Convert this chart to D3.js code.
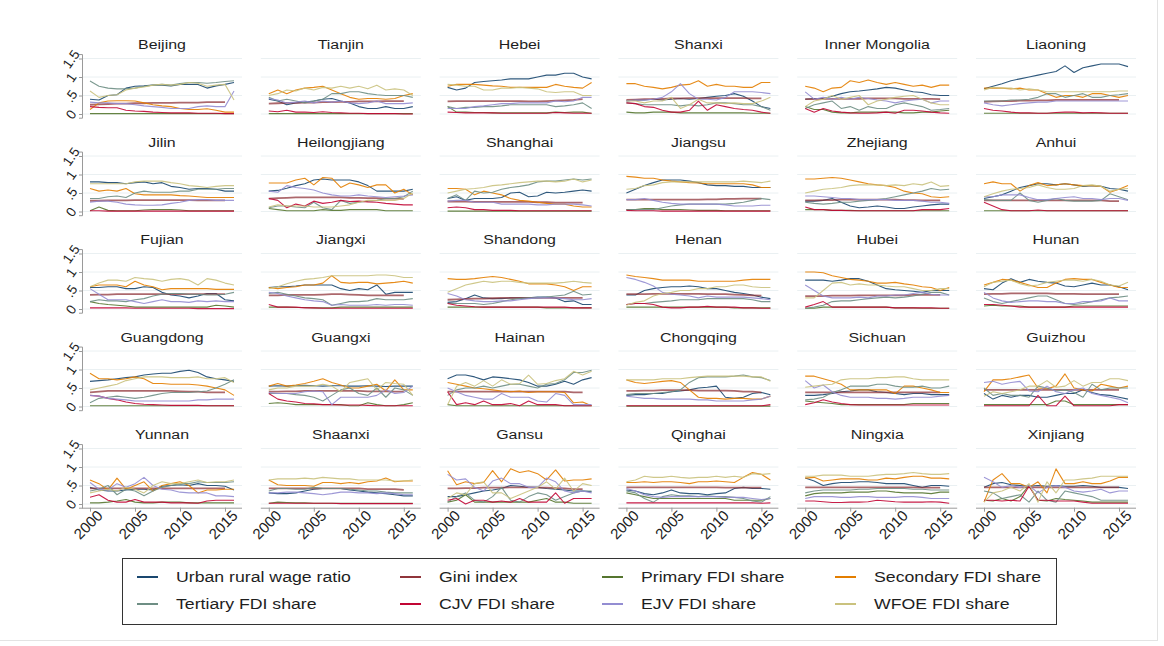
<!DOCTYPE html>
<html>
<head>
<meta charset="utf-8">
<script src="https://cdn.jsdelivr.net/npm/d3@7"></script>
<style>
  html, body { margin: 0; padding: 0; background: #fff; }
  svg { display: block; font-family: "Liberation Sans", Arial, sans-serif; }
</style>
</head>
<body>
<svg id="chart" width="1164" height="646"></svg>
<script>
// Provinces, in panel order (row by row)
const provinces = ["Beijing","Tianjin","Hebei","Shanxi","Inner Mongolia","Liaoning",
  "Jilin","Heilongjiang","Shanghai","Jiangsu","Zhejiang","Anhui",
  "Fujian","Jiangxi","Shandong","Henan","Hubei","Hunan",
  "Guangdong","Guangxi","Hainan","Chongqing","Sichuan","Guizhou",
  "Yunnan","Shaanxi","Gansu","Qinghai","Ningxia","Xinjiang"];

const years = d3.range(2000, 2017);
const xTickValues = [2000, 2005, 2010, 2015];
const yTickValues = [0, 0.5, 1, 1.5];
const yTickLabels = ["0", ".5", "1", "1.5"];

const seriesNames = ["Urban rural wage ratio","Gini index","Primary FDI share","Secondary FDI share",
  "Tertiary FDI share","CJV FDI share","EJV FDI share","WFOE FDI share"];

// One row per province, one value per year 2000-2016
const wageRatio = [
  [0.40,0.38,0.50,0.52,0.70,0.75,0.76,0.78,0.78,0.76,0.80,0.80,0.80,0.70,0.76,0.80,0.85],
  [0.40,0.35,0.25,0.30,0.32,0.35,0.40,0.42,0.35,0.30,0.20,0.15,0.15,0.20,0.15,0.15,0.20],
  [0.72,0.65,0.70,0.85,0.88,0.90,0.92,0.95,0.95,0.95,1.00,1.05,1.05,1.10,1.10,1.00,0.95],
  [0.35,0.38,0.38,0.40,0.38,0.40,0.42,0.40,0.42,0.45,0.48,0.50,0.55,0.48,0.35,0.20,0.15],
  [0.40,0.42,0.42,0.48,0.55,0.60,0.62,0.65,0.68,0.72,0.70,0.65,0.60,0.58,0.52,0.50,0.50],
  [0.68,0.75,0.82,0.90,0.95,1.00,1.05,1.10,1.15,1.30,1.12,1.25,1.30,1.35,1.35,1.35,1.28],
  [0.80,0.80,0.78,0.78,0.75,0.78,0.80,0.75,0.78,0.68,0.65,0.60,0.62,0.62,0.60,0.55,0.55],
  [0.55,0.57,0.63,0.70,0.75,0.85,0.88,0.85,0.85,0.85,0.80,0.70,0.55,0.55,0.55,0.55,0.60],
  [0.35,0.40,0.30,0.35,0.35,0.35,0.38,0.50,0.52,0.40,0.42,0.52,0.50,0.52,0.55,0.58,0.55],
  [0.50,0.60,0.70,0.78,0.85,0.85,0.85,0.82,0.78,0.72,0.70,0.70,0.68,0.68,0.65,0.65,0.65],
  [0.28,0.28,0.30,0.35,0.25,0.15,0.10,0.12,0.15,0.12,0.08,0.08,0.12,0.15,0.18,0.20,0.20],
  [0.35,0.40,0.45,0.55,0.65,0.70,0.75,0.75,0.72,0.75,0.72,0.68,0.70,0.68,0.62,0.60,0.55],
  [0.58,0.58,0.60,0.60,0.55,0.55,0.60,0.58,0.45,0.38,0.35,0.30,0.35,0.42,0.42,0.25,0.22],
  [0.58,0.60,0.60,0.62,0.65,0.65,0.65,0.65,0.55,0.50,0.55,0.52,0.65,0.40,0.45,0.45,0.45],
  [0.18,0.20,0.28,0.38,0.30,0.28,0.28,0.30,0.30,0.30,0.32,0.32,0.30,0.20,0.22,0.12,0.12],
  [0.38,0.38,0.50,0.55,0.58,0.60,0.60,0.62,0.60,0.55,0.55,0.50,0.45,0.42,0.38,0.32,0.28],
  [0.78,0.78,0.78,0.75,0.78,0.82,0.82,0.75,0.65,0.55,0.52,0.50,0.48,0.45,0.50,0.50,0.50],
  [0.55,0.52,0.70,0.82,0.72,0.80,0.75,0.72,0.70,0.62,0.60,0.65,0.70,0.65,0.65,0.60,0.52],
  [0.68,0.70,0.72,0.75,0.78,0.80,0.85,0.88,0.90,0.90,0.95,0.98,0.92,0.80,0.75,0.72,0.68],
  [0.55,0.56,0.55,0.56,0.57,0.56,0.55,0.56,0.56,0.55,0.55,0.56,0.55,0.54,0.55,0.55,0.55],
  [0.75,0.85,0.85,0.80,0.72,0.80,0.78,0.75,0.72,0.65,0.55,0.55,0.60,0.68,0.60,0.72,0.78],
  [0.30,0.32,0.32,0.35,0.35,0.40,0.42,0.45,0.50,0.52,0.55,0.25,0.22,0.25,0.35,0.38,0.32],
  [0.30,0.30,0.32,0.35,0.40,0.42,0.45,0.45,0.40,0.38,0.35,0.32,0.35,0.35,0.32,0.32,0.32],
  [0.35,0.20,0.30,0.25,0.30,0.30,0.25,0.25,0.30,0.35,0.35,0.45,0.38,0.32,0.30,0.25,0.20],
  [0.45,0.38,0.35,0.35,0.38,0.40,0.40,0.38,0.48,0.50,0.52,0.50,0.55,0.50,0.50,0.48,0.38],
  [0.30,0.28,0.28,0.30,0.35,0.40,0.42,0.42,0.42,0.38,0.35,0.32,0.30,0.28,0.25,0.22,0.22],
  [0.20,0.20,0.25,0.30,0.35,0.38,0.42,0.50,0.48,0.45,0.45,0.42,0.40,0.38,0.35,0.35,0.33],
  [0.38,0.35,0.28,0.25,0.30,0.38,0.30,0.28,0.28,0.25,0.28,0.30,0.42,0.45,0.42,0.42,0.40],
  [0.70,0.62,0.50,0.55,0.58,0.58,0.60,0.60,0.58,0.55,0.55,0.55,0.50,0.45,0.50,0.50,0.48],
  [0.45,0.55,0.58,0.52,0.50,0.48,0.50,0.48,0.50,0.48,0.48,0.50,0.48,0.45,0.45,0.45,0.42]
];

// Gini index stops in 2015
const giniIndex = [
  [0.25,0.26,0.27,0.28,0.28,0.29,0.29,0.30,0.30,0.30,0.31,0.31,0.31,0.32,0.32,0.32,null],
  [0.28,0.29,0.30,0.30,0.31,0.31,0.32,0.32,0.33,0.33,0.34,0.34,0.34,0.35,0.35,0.35,null],
  [0.34,0.35,0.35,0.35,0.35,0.35,0.35,0.35,0.35,0.34,0.34,0.35,0.36,0.37,0.38,0.40,null],
  [0.38,0.39,0.40,0.40,0.41,0.42,0.42,0.43,0.43,0.43,0.43,0.43,0.43,0.43,0.42,0.42,null],
  [0.40,0.40,0.41,0.41,0.41,0.41,0.41,0.42,0.42,0.42,0.42,0.41,0.41,0.41,0.41,0.40,null],
  [0.33,0.34,0.35,0.35,0.36,0.36,0.37,0.37,0.38,0.38,0.38,0.38,0.38,0.38,0.38,0.38,null],
  [0.29,0.29,0.30,0.30,0.30,0.31,0.31,0.31,0.31,0.31,0.31,0.31,0.30,0.30,0.30,0.30,null],
  [0.35,0.36,0.37,0.38,0.38,0.38,0.38,0.38,0.38,0.37,0.37,0.36,0.36,0.35,0.35,0.34,null],
  [0.27,0.27,0.27,0.26,0.26,0.26,0.26,0.26,0.26,0.26,0.25,0.25,0.24,0.24,0.24,0.24,null],
  [0.32,0.32,0.32,0.32,0.32,0.32,0.32,0.32,0.32,0.33,0.33,0.34,0.34,0.35,0.35,0.35,null],
  [0.30,0.30,0.31,0.31,0.32,0.32,0.32,0.32,0.32,0.32,0.32,0.31,0.31,0.30,0.30,0.30,null],
  [0.30,0.30,0.30,0.30,0.30,0.30,0.30,0.30,0.30,0.30,0.30,0.30,0.30,0.30,0.28,0.28,null],
  [0.38,0.39,0.39,0.40,0.40,0.40,0.40,0.40,0.40,0.40,0.40,0.40,0.40,0.40,0.40,0.40,null],
  [0.37,0.37,0.38,0.38,0.38,0.38,0.39,0.40,0.40,0.39,0.38,0.37,0.37,0.37,0.37,0.37,null],
  [0.25,0.26,0.27,0.28,0.28,0.29,0.30,0.30,0.30,0.30,0.30,0.30,0.30,0.30,0.30,0.30,null],
  [0.40,0.40,0.40,0.41,0.41,0.41,0.41,0.41,0.41,0.40,0.40,0.40,0.39,0.38,0.37,0.36,null],
  [0.35,0.35,0.35,0.36,0.36,0.36,0.37,0.37,0.37,0.37,0.37,0.37,0.38,0.38,0.38,0.38,null],
  [0.40,0.41,0.41,0.42,0.42,0.42,0.42,0.42,0.41,0.41,0.41,0.40,0.40,0.40,0.40,0.40,null],
  [0.38,0.40,0.42,0.42,0.42,0.42,0.42,0.42,0.42,0.42,0.41,0.40,0.40,0.38,0.38,0.38,null],
  [0.40,0.40,0.41,0.41,0.42,0.42,0.42,0.42,0.42,0.42,0.42,0.41,0.41,0.41,0.40,0.40,null],
  [0.40,0.40,0.40,0.40,0.40,0.40,0.40,0.40,0.40,0.40,0.40,0.40,0.40,0.40,0.38,0.38,null],
  [0.42,0.42,0.43,0.43,0.44,0.44,0.44,0.44,0.43,0.43,0.43,0.43,0.42,0.40,0.40,0.38,null],
  [0.38,0.38,0.38,0.38,0.38,0.38,0.38,0.38,0.38,0.38,0.38,0.38,0.38,0.38,0.38,0.38,null],
  [0.45,0.45,0.45,0.45,0.45,0.45,0.45,0.45,0.45,0.45,0.45,0.45,0.45,0.45,0.45,0.45,null],
  [0.42,0.42,0.42,0.42,0.42,0.42,0.42,0.42,0.42,0.42,0.42,0.42,0.42,0.42,0.42,0.42,null],
  [0.42,0.42,0.42,0.42,0.42,0.42,0.42,0.42,0.42,0.42,0.42,0.40,0.40,0.40,0.40,0.38,null],
  [0.42,0.42,0.43,0.43,0.44,0.44,0.44,0.45,0.45,0.45,0.44,0.44,0.43,0.42,0.40,0.40,null],
  [0.45,0.45,0.45,0.45,0.45,0.45,0.45,0.45,0.45,0.45,0.45,0.44,0.44,0.44,0.44,0.44,null],
  [0.45,0.45,0.45,0.45,0.45,0.45,0.45,0.45,0.45,0.45,0.45,0.45,0.45,0.44,0.44,0.44,null],
  [0.45,0.45,0.45,0.45,0.45,0.45,0.45,0.45,0.45,0.45,0.45,0.45,0.45,0.45,0.45,0.45,null]
];

const primaryShare = [
  [0.01,0.01,0.01,0.01,0.01,0.01,0.01,0.01,0.01,0.01,0.01,0.01,0.01,0.01,0.01,0.01,0.01],
  [0.01,0.01,0.01,0.01,0.01,0.01,0.01,0.01,0.01,0.01,0.01,0.01,0.01,0.01,0.01,0.01,0.01],
  [0.20,0.05,0.05,0.04,0.04,0.03,0.03,0.03,0.03,0.03,0.03,0.03,0.05,0.04,0.05,0.05,0.02],
  [0.05,0.03,0.03,0.05,0.05,0.05,0.03,0.03,0.03,0.03,0.03,0.03,0.03,0.03,0.02,0.02,0.02],
  [0.20,0.12,0.12,0.05,0.03,0.03,0.05,0.05,0.05,0.05,0.05,0.03,0.03,0.05,0.05,0.08,0.10],
  [0.02,0.02,0.02,0.02,0.02,0.02,0.02,0.02,0.02,0.02,0.02,0.02,0.02,0.02,0.02,0.02,0.02],
  [0.02,0.12,0.03,0.02,0.02,0.02,0.04,0.05,0.05,0.05,0.04,0.02,0.02,0.02,0.02,0.02,0.02],
  [0.08,0.05,0.02,0.02,0.02,0.02,0.05,0.03,0.03,0.05,0.05,0.05,0.05,0.02,0.02,0.02,0.02],
  [0.01,0.01,0.01,0.01,0.01,0.01,0.01,0.01,0.01,0.01,0.01,0.01,0.01,0.01,0.01,0.01,0.01],
  [0.05,0.05,0.08,0.08,0.05,0.05,0.05,0.04,0.03,0.03,0.03,0.02,0.02,0.02,0.02,0.02,0.02],
  [0.05,0.05,0.05,0.03,0.03,0.03,0.02,0.02,0.02,0.02,0.02,0.02,0.02,0.02,0.02,0.02,0.02],
  [0.02,0.02,0.02,0.02,0.02,0.02,0.02,0.02,0.02,0.02,0.02,0.02,0.02,0.02,0.02,0.02,0.02],
  [0.20,0.15,0.12,0.10,0.08,0.05,0.05,0.05,0.05,0.05,0.05,0.05,0.05,0.05,0.10,0.08,0.05],
  [0.05,0.05,0.05,0.04,0.04,0.03,0.03,0.03,0.05,0.05,0.05,0.05,0.05,0.05,0.05,0.05,0.05],
  [0.05,0.05,0.05,0.05,0.05,0.05,0.05,0.05,0.05,0.05,0.05,0.03,0.03,0.03,0.03,0.03,0.03],
  [0.05,0.05,0.05,0.05,0.05,0.05,0.05,0.05,0.05,0.05,0.05,0.05,0.03,0.03,0.03,0.03,0.03],
  [0.02,0.02,0.05,0.05,0.05,0.05,0.05,0.05,0.05,0.05,0.03,0.03,0.03,0.02,0.02,0.02,0.02],
  [0.08,0.10,0.08,0.08,0.08,0.05,0.05,0.05,0.05,0.05,0.08,0.08,0.08,0.08,0.08,0.08,0.08],
  [0.02,0.02,0.02,0.02,0.02,0.02,0.02,0.02,0.02,0.02,0.02,0.02,0.02,0.02,0.02,0.02,0.02],
  [0.08,0.10,0.08,0.05,0.05,0.05,0.05,0.05,0.05,0.02,0.02,0.10,0.05,0.02,0.02,0.05,0.10],
  [0.05,0.02,0.02,0.02,0.02,0.02,0.02,0.02,0.02,0.02,0.02,0.02,0.02,0.02,0.02,0.02,0.02],
  [0.01,0.01,0.01,0.01,0.01,0.01,0.01,0.01,0.01,0.01,0.01,0.01,0.01,0.01,0.01,0.01,0.01],
  [0.15,0.12,0.10,0.08,0.05,0.05,0.05,0.05,0.05,0.05,0.05,0.05,0.08,0.08,0.08,0.08,0.08],
  [0.05,0.05,0.05,0.05,0.05,0.05,0.05,0.05,0.15,0.15,0.05,0.05,0.05,0.05,0.05,0.05,0.05],
  [0.03,0.03,0.05,0.08,0.12,0.05,0.03,0.03,0.05,0.05,0.05,0.03,0.03,0.03,0.03,0.03,0.03],
  [0.02,0.05,0.04,0.03,0.03,0.02,0.02,0.02,0.02,0.02,0.02,0.02,0.02,0.02,0.02,0.02,0.02],
  [0.05,0.10,0.25,0.05,0.05,0.05,0.05,0.05,0.05,0.05,0.10,0.15,0.05,0.05,0.02,0.02,0.02],
  [0.30,0.25,0.20,0.15,0.15,0.15,0.15,0.15,0.15,0.15,0.15,0.15,0.10,0.10,0.10,0.10,0.15],
  [0.22,0.28,0.30,0.30,0.30,0.32,0.32,0.32,0.35,0.35,0.32,0.30,0.30,0.30,0.28,0.32,0.32],
  [0.10,0.08,0.15,0.08,0.20,0.50,0.10,0.08,0.15,0.12,0.10,0.08,0.05,0.05,0.05,0.05,0.05]
];

const secondaryShare = [
  [0.12,0.30,0.35,0.36,0.36,0.35,0.30,0.25,0.22,0.20,0.15,0.12,0.12,0.14,0.10,0.05,0.05],
  [0.55,0.65,0.55,0.65,0.70,0.72,0.75,0.65,0.55,0.45,0.40,0.42,0.42,0.40,0.42,0.50,0.55],
  [0.75,0.80,0.80,0.80,0.78,0.76,0.75,0.72,0.72,0.72,0.72,0.72,0.80,0.75,0.72,0.70,0.85],
  [0.82,0.82,0.75,0.72,0.68,0.72,0.78,0.80,0.90,0.75,0.80,0.75,0.75,0.72,0.72,0.85,0.85],
  [0.75,0.70,0.60,0.70,0.72,0.90,0.85,0.92,0.85,0.80,0.85,0.80,0.75,0.78,0.72,0.78,0.78],
  [0.70,0.70,0.70,0.68,0.70,0.65,0.65,0.55,0.45,0.50,0.50,0.45,0.55,0.55,0.50,0.45,0.50],
  [0.62,0.55,0.58,0.55,0.62,0.48,0.45,0.45,0.45,0.45,0.43,0.42,0.40,0.38,0.38,0.38,0.38],
  [0.77,0.77,0.77,0.85,0.90,0.72,0.92,0.90,0.65,0.77,0.72,0.65,0.72,0.72,0.50,0.60,0.45],
  [0.62,0.62,0.60,0.45,0.55,0.50,0.45,0.35,0.30,0.28,0.25,0.22,0.20,0.20,0.15,0.12,0.12],
  [0.95,0.93,0.90,0.90,0.85,0.82,0.80,0.78,0.77,0.75,0.75,0.75,0.75,0.75,0.72,0.65,0.65],
  [0.88,0.88,0.90,0.92,0.90,0.85,0.80,0.75,0.72,0.70,0.65,0.55,0.50,0.48,0.40,0.38,0.40],
  [0.75,0.80,0.75,0.75,0.55,0.70,0.78,0.70,0.72,0.75,0.72,0.70,0.70,0.68,0.52,0.60,0.70],
  [0.60,0.65,0.65,0.65,0.60,0.75,0.65,0.60,0.52,0.55,0.55,0.55,0.55,0.55,0.53,0.53,0.53],
  [0.58,0.55,0.58,0.60,0.65,0.65,0.70,0.90,0.72,0.70,0.72,0.72,0.68,0.70,0.72,0.75,0.70],
  [0.82,0.80,0.80,0.82,0.85,0.88,0.85,0.80,0.75,0.68,0.68,0.68,0.65,0.60,0.50,0.60,0.60],
  [0.92,0.88,0.85,0.82,0.78,0.78,0.78,0.78,0.75,0.75,0.75,0.75,0.75,0.78,0.80,0.80,0.80],
  [1.00,1.00,0.98,0.90,0.85,0.80,0.78,0.75,0.70,0.70,0.72,0.68,0.65,0.60,0.58,0.50,0.58],
  [0.65,0.72,0.80,0.78,0.72,0.65,0.58,0.58,0.70,0.80,0.82,0.80,0.80,0.72,0.65,0.58,0.58],
  [0.90,0.75,0.75,0.72,0.75,0.80,0.75,0.62,0.62,0.60,0.60,0.60,0.58,0.55,0.50,0.45,0.30],
  [0.55,0.62,0.55,0.58,0.62,0.68,0.75,0.65,0.58,0.50,0.50,0.55,0.60,0.42,0.72,0.45,0.45],
  [0.65,0.60,0.55,0.50,0.48,0.45,0.42,0.40,0.42,0.38,0.40,0.40,0.40,0.38,0.10,0.12,0.02],
  [0.72,0.65,0.62,0.65,0.68,0.70,0.65,0.45,0.25,0.22,0.22,0.20,0.22,0.22,0.20,0.20,0.28],
  [0.82,0.82,0.75,0.68,0.60,0.45,0.45,0.45,0.45,0.45,0.35,0.55,0.55,0.50,0.45,0.38,0.38],
  [0.40,0.72,0.72,0.75,0.80,0.85,0.50,0.48,0.55,0.88,0.50,0.45,0.42,0.60,0.55,0.50,0.55],
  [0.65,0.55,0.38,0.70,0.40,0.50,0.60,0.35,0.50,0.55,0.60,0.50,0.30,0.38,0.38,0.40,0.40],
  [0.65,0.52,0.50,0.50,0.50,0.48,0.58,0.58,0.55,0.58,0.55,0.60,0.62,0.70,0.60,0.62,0.62],
  [0.90,0.52,0.60,0.55,0.58,0.90,0.60,0.95,0.85,0.90,0.82,0.65,0.92,0.62,0.65,0.65,0.68],
  [0.58,0.58,0.60,0.58,0.60,0.60,0.58,0.55,0.60,0.60,0.62,0.60,0.58,0.72,0.85,0.80,0.65],
  [0.70,0.72,0.62,0.65,0.68,0.68,0.68,0.65,0.65,0.70,0.68,0.72,0.75,0.75,0.70,0.70,0.68],
  [0.05,0.65,0.82,0.55,0.55,0.45,0.60,0.30,0.95,0.55,0.55,0.60,0.55,0.55,0.62,0.72,0.72]
];

const tertiaryShare = [
  [0.89,0.75,0.70,0.68,0.68,0.70,0.75,0.78,0.80,0.78,0.82,0.85,0.85,0.83,0.85,0.88,0.90],
  [0.45,0.35,0.40,0.35,0.30,0.35,0.40,0.55,0.55,0.60,0.60,0.55,0.52,0.50,0.50,0.50,0.45],
  [0.20,0.15,0.18,0.18,0.20,0.20,0.22,0.25,0.25,0.25,0.25,0.25,0.20,0.22,0.25,0.30,0.15],
  [0.30,0.28,0.25,0.25,0.25,0.25,0.22,0.25,0.22,0.25,0.30,0.30,0.28,0.25,0.25,0.20,0.10],
  [0.15,0.25,0.30,0.35,0.15,0.20,0.10,0.20,0.15,0.15,0.25,0.30,0.25,0.20,0.10,0.12,0.15],
  [0.35,0.35,0.35,0.38,0.38,0.40,0.45,0.55,0.55,0.45,0.50,0.55,0.45,0.45,0.50,0.52,0.55],
  [0.35,0.35,0.40,0.42,0.38,0.50,0.55,0.52,0.52,0.52,0.55,0.55,0.60,0.60,0.60,0.62,0.62],
  [0.10,0.15,0.15,0.12,0.10,0.25,0.10,0.05,0.30,0.22,0.25,0.28,0.30,0.35,0.35,0.40,0.55],
  [0.35,0.45,0.30,0.55,0.50,0.52,0.60,0.65,0.68,0.72,0.80,0.82,0.82,0.85,0.88,0.85,0.88],
  [0.05,0.05,0.05,0.05,0.10,0.15,0.18,0.20,0.20,0.20,0.20,0.20,0.22,0.25,0.30,0.35,0.32],
  [0.25,0.22,0.20,0.22,0.25,0.25,0.28,0.30,0.32,0.35,0.40,0.45,0.50,0.55,0.62,0.58,0.60],
  [0.32,0.30,0.30,0.30,0.50,0.30,0.25,0.30,0.35,0.30,0.28,0.28,0.28,0.30,0.48,0.40,0.32],
  [0.20,0.25,0.22,0.22,0.20,0.25,0.28,0.35,0.40,0.42,0.42,0.40,0.40,0.38,0.38,0.40,0.45],
  [0.42,0.45,0.40,0.35,0.30,0.28,0.25,0.10,0.15,0.20,0.20,0.22,0.28,0.25,0.25,0.25,0.28],
  [0.15,0.15,0.15,0.15,0.12,0.15,0.20,0.25,0.28,0.30,0.30,0.32,0.35,0.38,0.48,0.38,0.40],
  [0.12,0.15,0.15,0.18,0.20,0.22,0.25,0.25,0.25,0.28,0.28,0.28,0.28,0.28,0.25,0.20,0.20],
  [0.02,0.05,0.10,0.20,0.22,0.22,0.25,0.28,0.30,0.32,0.30,0.32,0.35,0.40,0.45,0.45,0.38],
  [0.30,0.20,0.15,0.20,0.25,0.30,0.35,0.35,0.25,0.15,0.12,0.15,0.20,0.25,0.30,0.32,0.35],
  [0.10,0.22,0.25,0.28,0.25,0.22,0.25,0.30,0.35,0.38,0.38,0.38,0.40,0.42,0.50,0.60,0.72],
  [0.35,0.35,0.35,0.32,0.30,0.25,0.15,0.30,0.45,0.50,0.35,0.30,0.50,0.25,0.50,0.45,0.30],
  [0.30,0.45,0.50,0.50,0.55,0.50,0.55,0.60,0.60,0.55,0.50,0.60,0.62,0.72,0.92,0.92,0.98],
  [0.32,0.35,0.35,0.35,0.38,0.40,0.45,0.65,0.78,0.80,0.80,0.80,0.82,0.85,0.80,0.78,0.70],
  [0.18,0.20,0.25,0.38,0.45,0.55,0.55,0.55,0.60,0.60,0.55,0.52,0.52,0.55,0.50,0.50,0.55],
  [0.50,0.30,0.35,0.30,0.30,0.25,0.55,0.50,0.42,0.45,0.38,0.25,0.60,0.45,0.50,0.50,0.50],
  [0.35,0.40,0.50,0.25,0.40,0.35,0.22,0.35,0.45,0.50,0.55,0.55,0.60,0.58,0.58,0.58,0.60],
  [0.35,0.42,0.42,0.40,0.40,0.45,0.42,0.42,0.42,0.40,0.38,0.35,0.35,0.32,0.30,0.30,0.30],
  [0.05,0.20,0.30,0.10,0.05,0.20,0.45,0.10,0.05,0.20,0.30,0.25,0.10,0.20,0.30,0.35,0.35],
  [0.35,0.30,0.15,0.05,0.20,0.25,0.22,0.22,0.20,0.22,0.20,0.20,0.18,0.15,0.08,0.05,0.20],
  [0.30,0.35,0.38,0.38,0.38,0.38,0.40,0.40,0.42,0.42,0.42,0.42,0.40,0.40,0.38,0.38,0.38],
  [0.35,0.30,0.15,0.20,0.25,0.05,0.35,0.10,0.05,0.35,0.30,0.25,0.20,0.10,0.10,0.10,0.10]
];

const cjvShare = [
  [0.20,0.18,0.17,0.17,0.10,0.08,0.07,0.05,0.04,0.03,0.03,0.03,0.02,0.02,0.02,0.01,0.01],
  [0.08,0.06,0.10,0.05,0.05,0.04,0.06,0.04,0.03,0.02,0.02,0.01,0.01,0.01,0.01,0.00,0.00],
  [0.05,0.04,0.03,0.03,0.03,0.03,0.02,0.02,0.02,0.02,0.02,0.02,0.04,0.03,0.02,0.02,0.02],
  [0.30,0.28,0.20,0.18,0.10,0.05,0.05,0.10,0.35,0.10,0.25,0.20,0.15,0.12,0.10,0.05,0.02],
  [0.15,0.05,0.15,0.08,0.05,0.03,0.02,0.02,0.03,0.05,0.02,0.10,0.10,0.08,0.05,0.03,0.02],
  [0.15,0.10,0.08,0.05,0.03,0.03,0.02,0.02,0.04,0.05,0.05,0.03,0.04,0.03,0.02,0.02,0.02],
  [0.02,0.02,0.01,0.01,0.01,0.01,0.01,0.01,0.01,0.01,0.01,0.01,0.01,0.01,0.01,0.01,0.01],
  [0.35,0.30,0.10,0.20,0.15,0.28,0.22,0.25,0.30,0.27,0.28,0.26,0.25,0.22,0.20,0.18,0.18],
  [0.10,0.12,0.10,0.05,0.05,0.03,0.03,0.03,0.02,0.02,0.02,0.02,0.02,0.02,0.02,0.02,0.02],
  [0.03,0.02,0.02,0.02,0.01,0.01,0.01,0.01,0.01,0.01,0.01,0.01,0.01,0.01,0.01,0.01,0.01],
  [0.12,0.05,0.05,0.03,0.03,0.02,0.02,0.02,0.02,0.02,0.02,0.02,0.02,0.05,0.05,0.05,0.08],
  [0.25,0.15,0.05,0.02,0.02,0.02,0.04,0.02,0.02,0.02,0.02,0.02,0.02,0.02,0.02,0.02,0.02],
  [0.03,0.03,0.03,0.03,0.03,0.02,0.02,0.02,0.02,0.02,0.02,0.02,0.01,0.01,0.01,0.01,0.01],
  [0.12,0.05,0.05,0.05,0.03,0.03,0.02,0.02,0.02,0.02,0.02,0.02,0.02,0.02,0.02,0.02,0.02],
  [0.15,0.10,0.08,0.06,0.05,0.05,0.05,0.05,0.05,0.05,0.05,0.05,0.05,0.05,0.03,0.03,0.03],
  [0.12,0.15,0.15,0.12,0.05,0.03,0.03,0.05,0.05,0.07,0.05,0.05,0.05,0.03,0.03,0.02,0.02],
  [0.05,0.12,0.20,0.05,0.05,0.05,0.05,0.05,0.05,0.05,0.03,0.03,0.03,0.03,0.03,0.02,0.02],
  [0.12,0.12,0.10,0.08,0.05,0.05,0.05,0.05,0.05,0.05,0.05,0.05,0.05,0.05,0.05,0.05,0.05],
  [0.30,0.28,0.22,0.18,0.12,0.08,0.06,0.05,0.04,0.03,0.03,0.03,0.03,0.02,0.02,0.02,0.02],
  [0.35,0.20,0.15,0.12,0.08,0.07,0.05,0.05,0.04,0.04,0.04,0.03,0.02,0.02,0.02,0.02,0.02],
  [0.40,0.05,0.10,0.05,0.15,0.05,0.05,0.08,0.02,0.15,0.05,0.05,0.05,0.02,0.02,0.02,0.02],
  [0.02,0.02,0.02,0.02,0.02,0.02,0.02,0.02,0.02,0.02,0.02,0.02,0.02,0.02,0.02,0.02,0.05],
  [0.05,0.10,0.18,0.12,0.08,0.05,0.04,0.04,0.04,0.04,0.04,0.04,0.04,0.04,0.04,0.04,0.04],
  [0.02,0.02,0.02,0.02,0.02,0.02,0.30,0.02,0.02,0.28,0.02,0.02,0.02,0.02,0.02,0.05,0.05],
  [0.18,0.25,0.10,0.05,0.05,0.12,0.05,0.05,0.05,0.03,0.03,0.03,0.02,0.08,0.10,0.10,0.10],
  [0.02,0.02,0.02,0.02,0.02,0.02,0.02,0.02,0.01,0.01,0.01,0.01,0.01,0.01,0.01,0.01,0.01],
  [0.10,0.15,0.00,0.10,0.10,0.05,0.08,0.05,0.15,0.05,0.05,0.05,0.30,0.02,0.15,0.15,0.15],
  [0.03,0.03,0.03,0.03,0.03,0.03,0.03,0.03,0.03,0.03,0.03,0.03,0.03,0.03,0.03,0.02,0.03],
  [0.08,0.08,0.06,0.04,0.04,0.05,0.05,0.06,0.10,0.08,0.06,0.05,0.05,0.05,0.06,0.05,0.02],
  [0.10,0.10,0.08,0.10,0.08,0.48,0.10,0.10,0.08,0.08,0.08,0.05,0.02,0.02,0.02,0.02,0.02]
];

const ejvShare = [
  [0.32,0.30,0.30,0.28,0.28,0.25,0.22,0.20,0.18,0.15,0.15,0.15,0.20,0.22,0.20,0.20,0.62],
  [0.42,0.38,0.30,0.32,0.35,0.30,0.35,0.32,0.35,0.30,0.28,0.30,0.35,0.28,0.28,0.28,0.30],
  [0.15,0.15,0.15,0.20,0.22,0.25,0.28,0.28,0.30,0.30,0.30,0.30,0.35,0.33,0.35,0.45,0.45],
  [0.35,0.38,0.38,0.40,0.45,0.60,0.82,0.55,0.40,0.40,0.38,0.45,0.60,0.60,0.60,0.58,0.55],
  [0.60,0.40,0.45,0.40,0.45,0.40,0.45,0.42,0.38,0.35,0.30,0.35,0.38,0.40,0.30,0.35,0.35],
  [0.30,0.25,0.22,0.25,0.28,0.30,0.32,0.32,0.35,0.35,0.35,0.35,0.35,0.35,0.35,0.35,0.35],
  [0.25,0.28,0.28,0.25,0.20,0.18,0.17,0.17,0.18,0.22,0.25,0.30,0.32,0.32,0.30,0.30,0.30],
  [0.55,0.52,0.70,0.65,0.62,0.58,0.50,0.45,0.42,0.42,0.45,0.42,0.40,0.38,0.40,0.42,0.45],
  [0.28,0.30,0.30,0.25,0.25,0.25,0.20,0.20,0.20,0.20,0.18,0.18,0.20,0.20,0.20,0.18,0.15],
  [0.32,0.32,0.35,0.30,0.25,0.22,0.20,0.20,0.20,0.20,0.20,0.18,0.15,0.15,0.15,0.17,0.17],
  [0.42,0.42,0.40,0.38,0.35,0.35,0.32,0.32,0.32,0.32,0.30,0.30,0.30,0.28,0.25,0.25,0.22],
  [0.40,0.40,0.45,0.45,0.45,0.38,0.32,0.32,0.35,0.38,0.40,0.35,0.35,0.32,0.35,0.35,0.30],
  [0.55,0.40,0.25,0.25,0.25,0.20,0.15,0.20,0.25,0.20,0.20,0.18,0.22,0.20,0.22,0.20,0.20],
  [0.45,0.42,0.35,0.30,0.25,0.22,0.20,0.10,0.12,0.10,0.10,0.10,0.12,0.10,0.12,0.12,0.10],
  [0.42,0.35,0.25,0.22,0.20,0.20,0.22,0.22,0.25,0.28,0.30,0.30,0.30,0.28,0.25,0.25,0.28],
  [0.85,0.80,0.72,0.62,0.45,0.40,0.38,0.35,0.30,0.35,0.32,0.32,0.32,0.32,0.30,0.28,0.25],
  [0.65,0.50,0.35,0.30,0.30,0.30,0.32,0.30,0.35,0.35,0.38,0.38,0.42,0.45,0.40,0.38,0.38],
  [0.45,0.30,0.22,0.18,0.20,0.22,0.22,0.20,0.20,0.15,0.15,0.20,0.20,0.22,0.30,0.22,0.22],
  [0.30,0.28,0.22,0.20,0.18,0.15,0.15,0.15,0.15,0.15,0.15,0.15,0.18,0.18,0.20,0.20,0.20],
  [0.38,0.35,0.35,0.35,0.40,0.42,0.40,0.05,0.25,0.25,0.25,0.25,0.30,0.45,0.35,0.38,0.55],
  [0.50,0.40,0.30,0.25,0.20,0.20,0.35,0.25,0.25,0.25,0.15,0.12,0.35,0.30,0.05,0.05,0.05],
  [0.28,0.25,0.22,0.22,0.20,0.20,0.20,0.20,0.18,0.18,0.15,0.15,0.15,0.15,0.18,0.20,0.28],
  [0.70,0.50,0.58,0.40,0.30,0.25,0.25,0.25,0.22,0.22,0.20,0.22,0.25,0.25,0.25,0.28,0.30],
  [0.65,0.68,0.60,0.65,0.68,0.42,0.40,0.55,0.40,0.35,0.45,0.50,0.35,0.30,0.25,0.20,0.10],
  [0.58,0.40,0.38,0.55,0.45,0.55,0.72,0.50,0.40,0.38,0.32,0.30,0.30,0.30,0.22,0.22,0.20],
  [0.30,0.30,0.32,0.32,0.30,0.28,0.25,0.28,0.32,0.32,0.30,0.30,0.28,0.30,0.28,0.25,0.25],
  [0.80,0.65,0.68,0.45,0.35,0.62,0.70,0.55,0.55,0.45,0.45,0.70,0.60,0.35,0.30,0.35,0.30],
  [0.42,0.35,0.25,0.20,0.18,0.20,0.20,0.20,0.20,0.20,0.20,0.18,0.18,0.18,0.15,0.12,0.15],
  [0.15,0.20,0.20,0.20,0.18,0.18,0.20,0.20,0.18,0.18,0.18,0.20,0.20,0.18,0.15,0.15,0.15],
  [0.72,0.60,0.45,0.50,0.45,0.50,0.30,0.45,0.50,0.45,0.35,0.32,0.35,0.40,0.30,0.35,0.35]
];

const wfoeShare = [
  [0.62,0.45,0.50,0.52,0.65,0.70,0.73,0.78,0.80,0.78,0.80,0.85,0.83,0.75,0.78,0.80,0.38],
  [0.50,0.55,0.65,0.62,0.70,0.65,0.72,0.70,0.75,0.70,0.75,0.68,0.78,0.65,0.68,0.65,0.50],
  [0.80,0.78,0.75,0.75,0.65,0.65,0.70,0.70,0.72,0.70,0.68,0.60,0.58,0.60,0.60,0.50,0.50],
  [0.35,0.35,0.30,0.35,0.35,0.45,0.15,0.25,0.40,0.30,0.30,0.28,0.30,0.28,0.28,0.35,0.45],
  [0.20,0.35,0.40,0.50,0.40,0.45,0.50,0.25,0.35,0.40,0.45,0.48,0.50,0.40,0.30,0.25,0.25],
  [0.65,0.72,0.70,0.70,0.65,0.68,0.65,0.60,0.60,0.60,0.60,0.60,0.60,0.60,0.60,0.62,0.62],
  [0.75,0.75,0.75,0.75,0.75,0.80,0.82,0.82,0.82,0.78,0.75,0.70,0.68,0.65,0.68,0.70,0.70],
  [0.12,0.18,0.15,0.15,0.15,0.12,0.12,0.12,0.15,0.18,0.25,0.30,0.30,0.30,0.30,0.35,0.50],
  [0.50,0.55,0.60,0.62,0.65,0.70,0.72,0.75,0.78,0.80,0.82,0.82,0.80,0.82,0.88,0.80,0.85],
  [0.60,0.62,0.70,0.72,0.78,0.80,0.80,0.80,0.80,0.80,0.80,0.80,0.80,0.82,0.80,0.78,0.82],
  [0.50,0.55,0.60,0.62,0.65,0.70,0.72,0.72,0.72,0.70,0.72,0.70,0.75,0.72,0.80,0.68,0.70],
  [0.40,0.48,0.55,0.60,0.62,0.65,0.72,0.65,0.60,0.60,0.62,0.70,0.72,0.68,0.55,0.60,0.62],
  [0.60,0.70,0.78,0.78,0.75,0.85,0.82,0.80,0.75,0.80,0.82,0.78,0.65,0.82,0.78,0.70,0.65],
  [0.55,0.60,0.68,0.75,0.80,0.82,0.85,0.90,0.90,0.90,0.90,0.90,0.92,0.92,0.90,0.85,0.85],
  [0.45,0.55,0.65,0.70,0.75,0.72,0.75,0.75,0.72,0.70,0.70,0.70,0.70,0.72,0.75,0.72,0.70],
  [0.10,0.18,0.22,0.35,0.42,0.45,0.50,0.50,0.55,0.55,0.60,0.60,0.65,0.65,0.60,0.58,0.58],
  [0.30,0.30,0.50,0.70,0.72,0.65,0.68,0.65,0.65,0.62,0.60,0.60,0.55,0.50,0.50,0.55,0.55],
  [0.60,0.72,0.75,0.78,0.68,0.62,0.65,0.72,0.75,0.78,0.78,0.75,0.80,0.75,0.65,0.62,0.72],
  [0.45,0.50,0.55,0.60,0.70,0.75,0.80,0.80,0.80,0.78,0.78,0.78,0.80,0.75,0.75,0.78,0.65],
  [0.45,0.50,0.50,0.55,0.55,0.55,0.60,0.55,0.40,0.65,0.70,0.75,0.45,0.65,0.62,0.60,0.30],
  [0.05,0.55,0.65,0.55,0.70,0.55,0.72,0.60,0.62,0.85,0.60,0.62,0.70,0.75,0.95,0.85,0.95],
  [0.72,0.72,0.72,0.72,0.75,0.75,0.75,0.78,0.80,0.82,0.82,0.82,0.82,0.82,0.80,0.80,0.68],
  [0.52,0.55,0.58,0.60,0.72,0.75,0.75,0.75,0.78,0.78,0.80,0.80,0.75,0.72,0.72,0.72,0.72],
  [0.28,0.40,0.35,0.40,0.45,0.55,0.55,0.70,0.52,0.55,0.70,0.55,0.65,0.65,0.75,0.75,0.70],
  [0.30,0.35,0.40,0.35,0.45,0.40,0.30,0.50,0.60,0.55,0.55,0.60,0.65,0.58,0.60,0.60,0.65],
  [0.65,0.68,0.68,0.68,0.70,0.68,0.72,0.70,0.68,0.68,0.65,0.65,0.65,0.65,0.62,0.62,0.65],
  [0.15,0.30,0.25,0.55,0.60,0.30,0.30,0.15,0.25,0.35,0.45,0.60,0.40,0.70,0.35,0.55,0.50],
  [0.60,0.65,0.75,0.72,0.72,0.75,0.72,0.70,0.72,0.72,0.75,0.72,0.75,0.72,0.82,0.80,0.82],
  [0.75,0.75,0.78,0.78,0.78,0.75,0.75,0.75,0.78,0.80,0.80,0.82,0.85,0.82,0.80,0.80,0.82],
  [0.05,0.30,0.35,0.45,0.35,0.55,0.05,0.60,0.30,0.65,0.65,0.68,0.70,0.75,0.75,0.75,0.75]
];

// Series table, drawn in this order
const seriesData = [wageRatio, giniIndex, primaryShare, secondaryShare, tertiaryShare, cjvShare, ejvShare, wfoeShare];
const seriesColors = ["#1a476f","#90353b","#55752f","#e37e00","#6e8e84","#c10534","#938dd2","#cac27e"];

// Layout
const nCols = 6;
const colLeft = 82, colPitch = 178.8, plotW = 160, padX = 8;
const rowZero = 114, rowPitch = 97.5, unit = 37;
const textStretch = 1.18;   // text is drawn slightly wide

const svg = d3.select("#chart");

// Outer frame edges
svg.append("line").attr("x1", 1157.5).attr("x2", 1157.5).attr("y1", 0).attr("y2", 641)
  .attr("stroke", "#e3e3e3");
svg.append("line").attr("x1", 0).attr("x2", 1158).attr("y1", 640.5).attr("y2", 640.5)
  .attr("stroke", "#e3e3e3");

const line = d3.line()
  .defined(d => d.v !== null)
  .x(d => d.x)
  .y(d => d.y);

provinces.forEach((name, p) => {
  const col = p % nCols, row = Math.floor(p / nCols);
  const left = colLeft + col * colPitch;
  const zero = rowZero + row * rowPitch;

  const x = d3.scaleLinear().domain([2000, 2016]).range([left + padX, left + plotW - padX]);
  const y = d3.scaleLinear().domain([-0.1, 1.62]).range([zero + 0.1 * unit, zero - 1.62 * unit]);

  const g = svg.append("g");

  // grid
  g.selectAll("line.grid").data(yTickValues).join("line")
    .attr("x1", left).attr("x2", left + plotW)
    .attr("y1", d => y(d)).attr("y2", d => y(d))
    .attr("stroke", "#eaf0f2").attr("stroke-width", 1);

  // title
  g.append("text")
    .attr("transform", `translate(${left + plotW / 2},${zero - 65}) scale(${textStretch},1)`)
    .attr("text-anchor", "middle")
    .attr("font-size", 13.5).attr("fill", "#1e1e1e")
    .text(name);

  // y axis on first column
  if (col === 0) {
    const ay = g.append("g").attr("transform", `translate(${left},0)`)
      .call(d3.axisLeft(y).tickValues(yTickValues).tickSize(3)
        .tickFormat((d, i) => yTickLabels[i]));
    ay.select(".domain").attr("stroke", "#9a9a9a");
    ay.selectAll(".tick line").attr("stroke", "#9a9a9a");
    ay.selectAll(".tick text")
      .attr("font-family", "Liberation Sans, Arial, sans-serif")
      .attr("font-size", 13.5).attr("fill", "#222")
      .attr("text-anchor", "middle")
      .attr("x", -11).attr("dy", "0.35em")
      .attr("transform", "rotate(-55,-11,0)");
  }

  // x axis on bottom row
  if (row === 4) {
    const ax = g.append("g").attr("transform", `translate(0,${y(-0.1)})`)
      .call(d3.axisBottom(x).tickValues(xTickValues).tickSize(4).tickFormat(d3.format("d")));
    ax.select(".domain").attr("stroke", "#9a9a9a")
      .attr("d", `M${left},0.5H${left + plotW}`);
    ax.selectAll(".tick line").attr("stroke", "#9a9a9a");
    ax.selectAll(".tick text")
      .attr("font-family", "Liberation Sans, Arial, sans-serif")
      .attr("font-size", 15).attr("fill", "#222")
      .attr("text-anchor", "end")
      .attr("x", 3).attr("y", 5).attr("dy", "0.7em")
      .attr("transform", "rotate(-45)");
  }

  // series lines
  seriesData.forEach((arr, s) => {
    const pts = years.map((yr, i) => ({ x: x(yr), v: arr[p][i], y: arr[p][i] === null ? 0 : y(arr[p][i]) }));
    g.append("path")
      .attr("d", line(pts))
      .attr("fill", "none")
      .attr("stroke", seriesColors[s])
      .attr("stroke-width", s === 1 ? 1.8 : 1.1)
      .attr("stroke-opacity", s === 1 ? 0.75 : 0.9)
      .attr("stroke-linejoin", "round");
  });
});

// Legend
const legend = svg.append("g");
legend.append("rect")
  .attr("x", 122.5).attr("y", 558.5).attr("width", 934).attr("height", 66)
  .attr("fill", "#fff").attr("stroke", "#333").attr("stroke-width", 1);

const legendCols = [137, 400, 602, 835];
const legendRows = [577, 604];
seriesNames.forEach((nm, i) => {
  const cx = legendCols[i % 4], cy = legendRows[Math.floor(i / 4)];
  legend.append("line")
    .attr("x1", cx).attr("x2", cx + 21).attr("y1", cy).attr("y2", cy)
    .attr("stroke", seriesColors[i]).attr("stroke-width", 2);
  legend.append("text")
    .attr("transform", `translate(${cx + 39},${cy}) scale(${textStretch},1)`)
    .attr("dy", "0.35em")
    .attr("font-size", 15).attr("fill", "#1e1e1e")
    .text(nm);
});
</script>
</body>
</html>
